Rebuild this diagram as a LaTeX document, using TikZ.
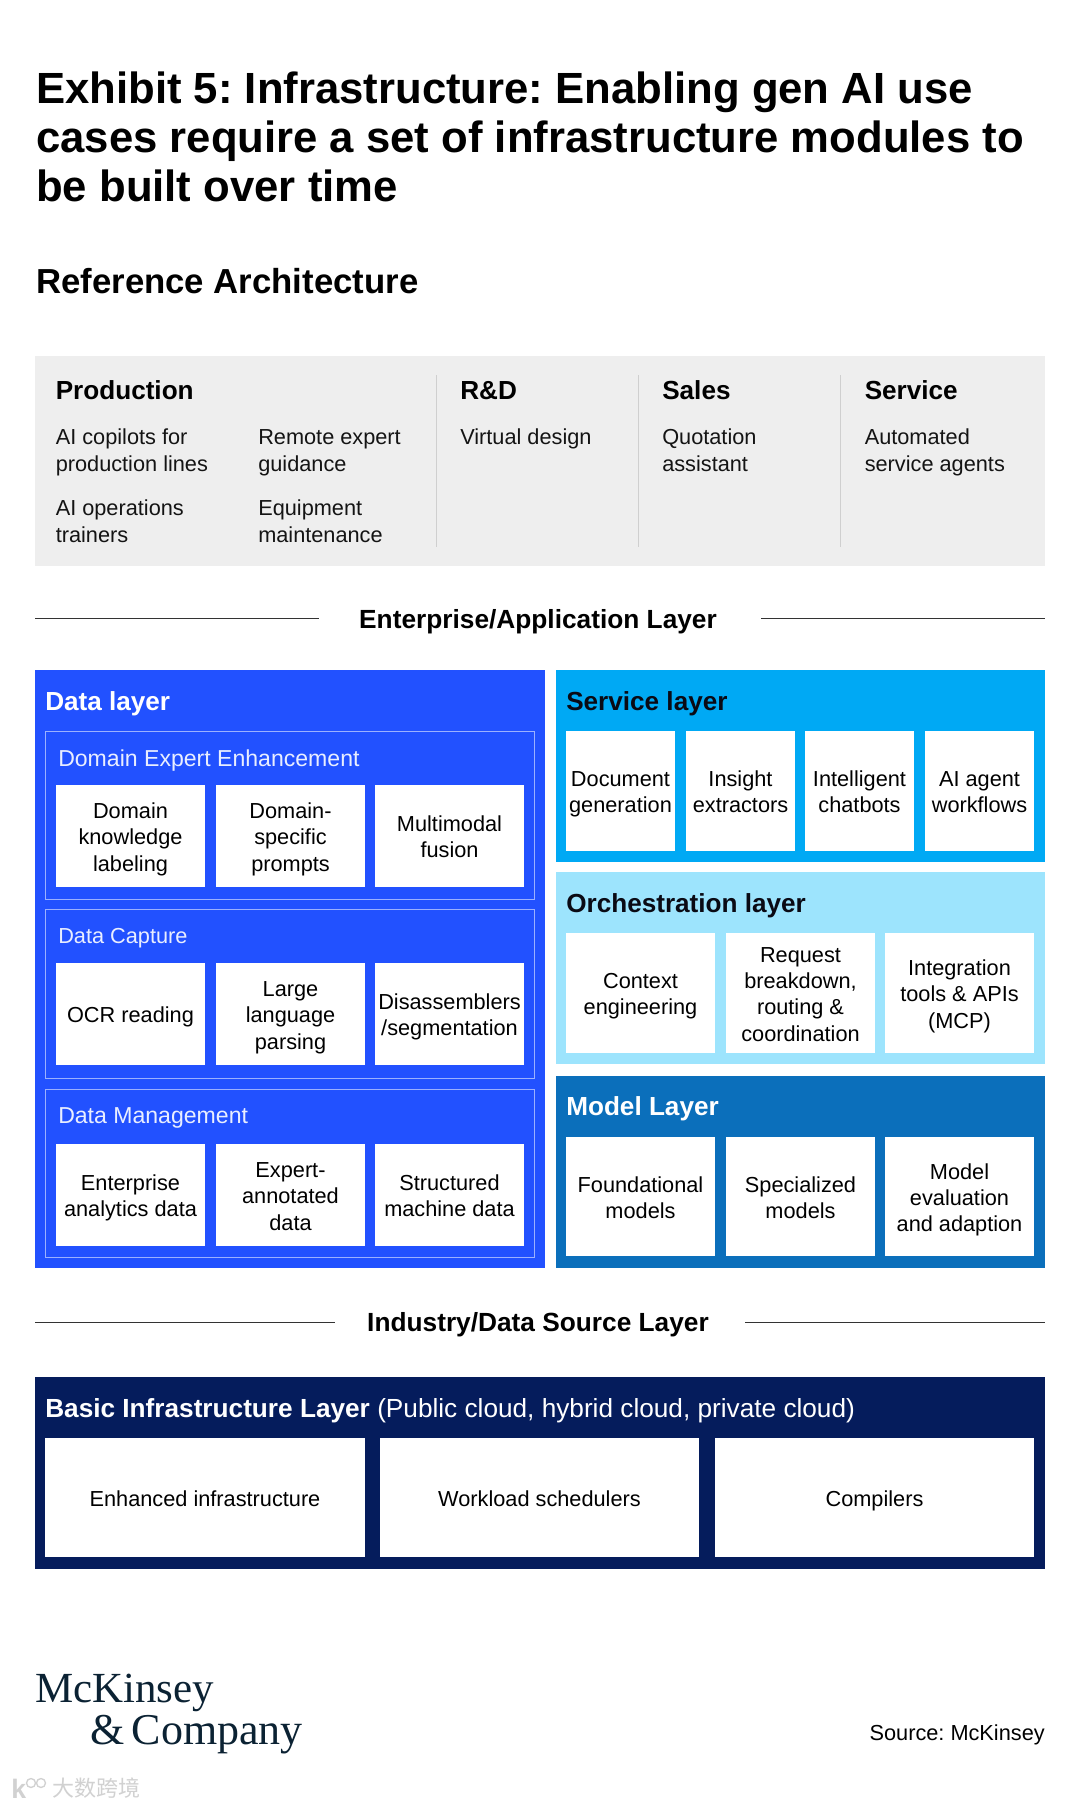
\documentclass[tikz,border=0pt]{standalone}
\usepackage{fontspec}
\setmainfont{Liberation Sans}
\newfontfamily\logofont{Liberation Serif}
\newfontfamily\cjkfont{Noto Sans CJK SC}
\definecolor{datablue}{HTML}{2251FF}
\definecolor{servblue}{HTML}{00A9F4}
\definecolor{orchblue}{HTML}{9DE4FD}
\definecolor{modelblue}{HTML}{0B6FBB}
\definecolor{basicblue}{HTML}{051C5C}
\definecolor{panelgrey}{HTML}{EEEEEE}
\definecolor{divgrey}{HTML}{CFCFCF}
\definecolor{inkdark}{HTML}{0A0A14}
\definecolor{logoink}{HTML}{0B2233}
\newcommand{\pxbox}[7]{%
  \pgfmathsetlengthmacro{\bw}{(#4-#2)*0.75pt}%
  \pgfmathsetlengthmacro{\bh}{(#5-#3)*0.75pt}%
  \node[#6,minimum width=\bw,minimum height=\bh] (#1) at ({(#2+#4)/2},{(#3+#5)/2}) {#7};}
\newcommand{\topr}{\rule{0pt}{18.4pt}}
\newcommand{\botr}{\rule[-5.2pt]{0pt}{5.2pt}}
\newcommand{\wb}[6]{\pxbox{#1}{#2}{#3}{#4}{#5}{wbox}{\topr #6\botr}}
\tikzset{
  panel/.style={inner sep=0pt,outer sep=0pt,draw=none},
  wbox/.style={panel,fill=white,align=center,text=black,font=\fontsize{16.3}{19.7}\selectfont},
  framebox/.style={panel,draw=white!55!datablue,line width=0.7pt},
  headtxt/.style={anchor=base west,inner sep=0pt,font=\fontsize{19.6}{24}\bfseries},
  subtxt/.style={anchor=base west,inner sep=0pt,text=white!90!datablue,font=\fontsize{17.3}{20}\selectfont},
  bodytxt/.style={anchor=base west,inner sep=0pt,align=left,text=black!92,font=\fontsize{16.3}{19.7}\selectfont},
  coltitle/.style={anchor=base west,inner sep=0pt,text=black,font=\fontsize{19.6}{24}\bfseries},
  septitle/.style={anchor=base,inner sep=0pt,text=black,font=\fontsize{19.7}{24}\bfseries},
  sepline/.style={draw=black!80,line width=0.7pt},
  divline/.style={draw=divgrey,line width=0.7pt},
}
\begin{document}
\frenchspacing
\begin{tikzpicture}[x=0.75pt,y=-0.75pt]
\useasboundingbox (0,0) rectangle (1080,1808);
\fill[white] (0,0) rectangle (1080,1808);

% titles
\node[anchor=base west,inner sep=0pt,align=left,text=black,font=\fontsize{32.75}{36.8}\bfseries] (title) at (36,201.5)
 {Exhibit 5: Infrastructure: Enabling gen AI use\\cases require a set of infrastructure modules to\\be built over time};
\node[anchor=base west,inner sep=0pt,text=black,font=\fontsize{26.05}{30}\bfseries] (refarch) at (36,293.5) {Reference Architecture};

% application panel
\pxbox{apppanel}{35}{356}{1045}{566}{panel,fill=panelgrey}{}
\node[coltitle] (prod) at (55.5,399) {Production};
\node[coltitle] (rd) at (460,399) {R\&D};
\node[coltitle] (sales) at (662,399) {Sales};
\node[coltitle] (serv) at (864.5,399) {Service};
\node[bodytxt] (p1) at (55.5,471) {AI copilots for\\production lines};
\node[bodytxt] (p2) at (258,471) {Remote expert\\guidance};
\node[bodytxt] (p3) at (55.5,542) {AI operations\\trainers};
\node[bodytxt] (p4) at (258,542) {Equipment\\maintenance};
\node[bodytxt] (r1) at (460,444.7) {Virtual design};
\node[bodytxt] (s1) at (662,471) {Quotation\\assistant};
\node[bodytxt] (v1) at (864.5,471) {Automated\\service agents};
\coordinate (d1a) at (436.5,375); \coordinate (d1b) at (436.5,547);
\coordinate (d2a) at (638.5,375); \coordinate (d2b) at (638.5,547);
\coordinate (d3a) at (840.5,375); \coordinate (d3b) at (840.5,547);
\draw[divline] (d1a) -- (d1b);
\draw[divline] (d2a) -- (d2b);
\draw[divline] (d3a) -- (d3b);

% enterprise separator
\node[septitle] (enttitle) at (538,628) {Enterprise/Application Layer};
\coordinate (e1) at (35,618); \coordinate (e2) at (319,618);
\coordinate (e3) at (761,618); \coordinate (e4) at (1045,618);
\draw[sepline] (e1) -- (e2);
\draw[sepline] (e3) -- (e4);

% data layer
\pxbox{datalayer}{35}{670}{545}{1268}{panel,fill=datablue}{}
\node[headtxt,text=white] (datahead) at (45,710) {Data layer};
\pxbox{f1}{45}{731}{534}{899}{framebox}{}
\pxbox{f2}{45}{909}{534}{1078}{framebox}{}
\pxbox{f3}{45}{1089}{534}{1257}{framebox}{}
\node[subtxt] (f1t) at (58,766) {Domain Expert Enhancement};
\node[subtxt,font=\fontsize{16.3}{20}\selectfont] (f2t) at (58,943.5) {Data Capture};
\node[subtxt] (f3t) at (58,1123) {Data Management};
\wb{a1}{56}{785}{205}{887}{Domain\\knowledge\\labeling}
\wb{a2}{216}{785}{365}{887}{Domain-\\specific\\prompts}
\wb{a3}{375}{785}{524}{887}{Multimodal\\fusion}
\wb{b1}{56}{963}{205}{1065}{OCR reading}
\wb{b2}{216}{963}{365}{1065}{Large\\language\\parsing}
\wb{b3}{375}{963}{524}{1065}{Disassemblers\\/segmentation}
\wb{c1}{56}{1144}{205}{1246}{Enterprise\\analytics data}
\wb{c2}{216}{1144}{365}{1246}{Expert-\\annotated\\data}
\wb{c3}{375}{1144}{524}{1246}{Structured\\machine data}

% service layer
\pxbox{servlayer}{556}{670}{1045}{862}{panel,fill=servblue}{}
\node[headtxt,text=inkdark] (servhead) at (566,710) {Service layer};
\wb{s-a}{566}{731}{675}{851}{Document\\generation}
\wb{s-b}{686}{731}{795}{851}{Insight\\extractors}
\wb{s-c}{805}{731}{914}{851}{Intelligent\\chatbots}
\wb{s-d}{925}{731}{1034}{851}{AI agent\\workflows}

% orchestration layer
\pxbox{orchlayer}{556}{872}{1045}{1064}{panel,fill=orchblue}{}
\node[headtxt,text=inkdark] (orchhead) at (566,912) {Orchestration layer};
\wb{o-a}{566}{933}{715}{1053}{Context\\engineering}
\wb{o-b}{726}{933}{875}{1053}{Request\\breakdown,\\routing \&\\coordination}
\wb{o-c}{885}{933}{1034}{1053}{Integration\\tools \& APIs\\(MCP)}

% model layer
\pxbox{modellayer}{556}{1076}{1045}{1268}{panel,fill=modelblue}{}
\node[headtxt,text=white] (modelhead) at (566,1115.5) {Model Layer};
\wb{m-a}{566}{1137}{715}{1256}{Foundational\\models}
\wb{m-b}{726}{1137}{875}{1256}{Specialized\\models}
\wb{m-c}{885}{1137}{1034}{1256}{Model\\evaluation\\and adaption}

% industry separator
\node[septitle] (indtitle) at (538,1331.5) {Industry/Data Source Layer};
\coordinate (i1) at (35,1322); \coordinate (i2) at (335,1322);
\coordinate (i3) at (745,1322); \coordinate (i4) at (1045,1322);
\draw[sepline] (i1) -- (i2);
\draw[sepline] (i3) -- (i4);

% basic infrastructure layer
\pxbox{basiclayer}{35}{1377}{1045}{1569}{panel,fill=basicblue}{}
\node[anchor=base west,inner sep=0pt,text=white,font=\fontsize{19.65}{24}\selectfont] (basichead) at (45,1417) {\textbf{Basic Infrastructure Layer} (Public cloud, hybrid cloud, private cloud)};
\wb{i-a}{45}{1438}{365}{1557}{Enhanced infrastructure}
\wb{i-b}{380}{1438}{699}{1557}{Workload schedulers}
\wb{i-c}{715}{1438}{1034}{1557}{Compilers}

% footer
\node[anchor=base west,inner sep=0pt,text=logoink,font=\logofont\fontsize{32.2}{36}\selectfont] (logo1) at (35,1702) {McKinsey};
\node[anchor=base west,inner sep=0pt,text=logoink,font=\logofont\fontsize{33}{36}\selectfont] (logo2) at (90,1744) {\&\,Company};
\node[anchor=base east,inner sep=0pt,text=black,font=\fontsize{16.3}{19.7}\selectfont] (source) at (1045,1740) {Source: McKinsey};
\node[anchor=base west,inner sep=0pt,text=black!18,font=\cjkfont\fontsize{16.5}{20}\selectfont] (mark) at (52,1796) {大数跨境};
\node[anchor=base west,inner sep=0pt,text=black!18,font=\fontsize{20}{24}\bfseries] (markk) at (11,1798) {k};
\draw[black!18,line width=1pt] (31,1783) circle (4.5);
\draw[black!18,line width=1pt] (41,1783) circle (4.5);
\end{tikzpicture}
\end{document}
